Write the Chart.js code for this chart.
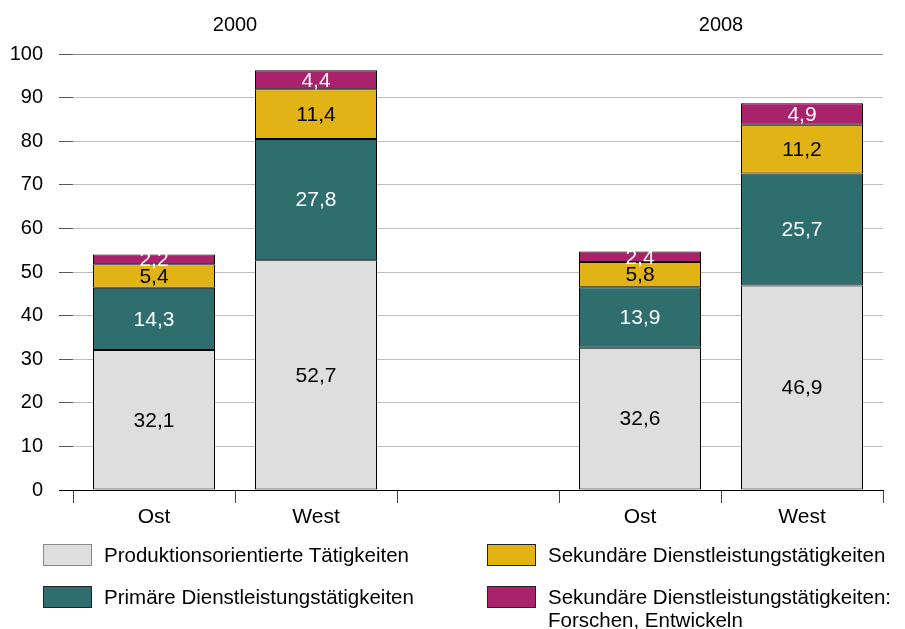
<!DOCTYPE html>
<html>
<head>
<meta charset="utf-8">
<script src="https://cdn.jsdelivr.net/npm/chart.js@4/dist/chart.umd.min.js"></script>
<style>
  html, body { margin: 0; padding: 0; background: #fff; }
  #wrap { position: relative; width: 905px; height: 629px; }
  #legend { position: absolute; left: 0; top: 0; width: 905px; height: 629px; pointer-events: none;
            font-family: "Liberation Sans", Arial, sans-serif; font-size: 20.5px; color: #000; }
  .item { position: absolute; display: flex; align-items: flex-start; }
  .box { width: 47px; height: 20px; border: 1px solid #222; margin-right: 12px; flex: none; }
  .txt { line-height: 23px; margin-top: -1px; white-space: nowrap; }
</style>
</head>
<body>
<div id="wrap">
  <canvas id="c" width="905" height="629"></canvas>
  <div id="legend"></div>
</div>
<script>
const categories = ['Ost', 'West', '', 'Ost', 'West'];
const yearLabels = ['2000', '2008'];
const seriesNames = [
  'Produktionsorientierte Tätigkeiten',
  'Primäre Dienstleistungstätigkeiten',
  'Sekundäre Dienstleistungstätigkeiten',
  'Sekundäre Dienstleistungstätigkeiten:\nForschen, Entwickeln'
];
const produktion = [32.1, 52.7, null, 32.6, 46.9];
const primaer = [14.3, 27.8, null, 13.9, 25.7];
const sekundaer = [5.4, 11.4, null, 5.8, 11.2];
const forschen = [2.2, 4.4, null, 2.4, 4.9];
const yTicks = [0, 10, 20, 30, 40, 50, 60, 70, 80, 90, 100];

const fills = ['#dedede', '#2f6e6e', '#e2b314', '#a9226b'];
const labelColors = ['#000', '#fff', '#000', '#fff'];
const FONT = '"Liberation Sans", Arial, sans-serif';

const seriesData = [produktion, primaer, sekundaer, forschen];
const datasets = seriesData.map((d, i) => ({
  label: seriesNames[i],
  data: d,
  backgroundColor: fills[i],
  borderColor: '#000',
  borderWidth: 1,
  borderSkipped: false,
  barPercentage: 122 / 162,
  categoryPercentage: 1.0
}));

const valueLabels = {
  id: 'valueLabels',
  afterDatasetsDraw(chart) {
    const ctx = chart.ctx;
    ctx.save();
    ctx.font = '21px ' + FONT;
    ctx.textAlign = 'center';
    ctx.textBaseline = 'middle';
    chart.data.datasets.forEach((ds, i) => {
      const meta = chart.getDatasetMeta(i);
      meta.data.forEach((bar, j) => {
        const v = ds.data[j];
        if (v == null) return;
        const mid = (bar.y + bar.base) / 2;
        ctx.fillStyle = labelColors[i];
        ctx.fillText(v.toFixed(1).replace('.', ','), bar.x, mid + 1);
      });
    });
    ctx.restore();
  }
};

const yearTitles = {
  id: 'yearTitles',
  afterDraw(chart) {
    const x = chart.scales.x;
    const ctx = chart.ctx;
    ctx.save();
    ctx.font = '20px ' + FONT;
    ctx.fillStyle = '#000';
    ctx.textAlign = 'center';
    ctx.textBaseline = 'middle';
    const g1 = (x.getPixelForValue(0) + x.getPixelForValue(1)) / 2;
    const g2 = (x.getPixelForValue(3) + x.getPixelForValue(4)) / 2;
    ctx.fillText(yearLabels[0], g1, 25);
    ctx.fillText(yearLabels[1], g2, 25);
    ctx.restore();
  }
};

new Chart(document.getElementById('c'), {
  type: 'bar',
  data: { labels: categories, datasets },
  options: {
    responsive: false,
    animation: false,
    events: [],
    layout: { padding: { top: 54, right: 22, bottom: 99, left: 0 } },
    plugins: { legend: { display: false }, tooltip: { enabled: false }, title: { display: false } },
    scales: {
      x: {
        stacked: true,
        offset: true,
        afterFit(s) { s.height = 40; },
        grid: { display: true, drawOnChartArea: false, drawTicks: true, tickLength: 13, offset: true, color: '#444', lineWidth: 1 },
        border: { display: true, color: '#000', width: 1 },
        ticks: { color: '#000', font: { family: FONT, size: 21 }, padding: 2, maxRotation: 0, autoSkip: false }
      },
      y: {
        stacked: true,
        min: 0, max: 100,
        afterFit(s) { s.width = 73; },
        afterBuildTicks(s) { s.ticks = yTicks.map(v => ({ value: v })); },
        grid: {
          drawTicks: true, tickLength: 14,
          color: ctx => ctx.tick && ctx.tick.value === 100 ? '#8a8a8a' : (ctx.tick && ctx.tick.value === 0 ? '#000' : '#bdbdbd'),
          tickColor: ctx => ctx.tick && ctx.tick.value === 0 ? '#000' : '#555',
          lineWidth: 1
        },
        border: { display: false },
        ticks: { color: '#000', font: { family: FONT, size: 20 }, padding: 16 }
      }
    }
  },
  plugins: [valueLabels, yearTitles]
});

// HTML legend built from the series names and colours
const legendPos = [
  { left: 43, top: 544 }, { left: 43, top: 586 },
  { left: 487, top: 544 }, { left: 487, top: 586 }
];
const legend = document.getElementById('legend');
seriesNames.forEach((name, i) => {
  const it = document.createElement('div');
  it.className = 'item';
  it.style.left = legendPos[i].left + 'px';
  it.style.top = legendPos[i].top + 'px';
  const box = document.createElement('div');
  box.className = 'box';
  box.style.background = fills[i];
  if (i === 0) box.style.borderColor = '#888';
  const t = document.createElement('div');
  t.className = 'txt';
  t.innerHTML = name.split('\n').join('<br>');
  it.appendChild(box);
  it.appendChild(t);
  legend.appendChild(it);
});
</script>
</body>
</html>
